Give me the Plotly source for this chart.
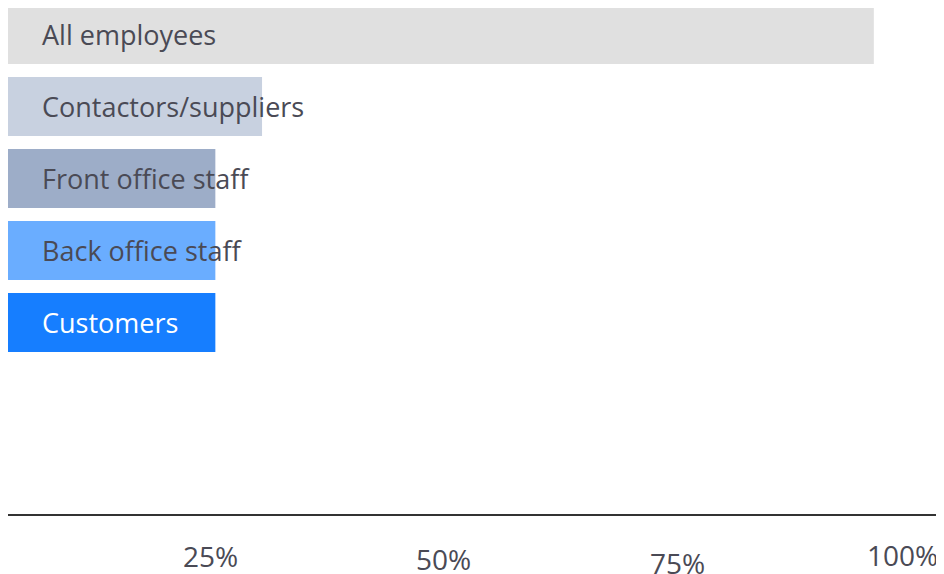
import plotly.graph_objects as go

categories = ["All employees", "Contactors/suppliers", "Front office staff",
              "Back office staff", "Customers"]
values = [0.927, 0.272, 0.222, 0.222, 0.222]
bar_colors = ["#e0e0e0", "#c8d1e0", "#9dadc8", "#6aadff", "#167eff"]
label_colors = ["#4a4a55", "#4a4a55", "#4a4a55", "#4a4a55", "#ffffff"]
tick_vals = [0.25, 0.5, 0.75, 1.0]
tick_text = ["25%", "50%", "75%", "100%"]
tick_drop = [42, 45, 49, 41]  # the percent labels sit at slightly different depths

FONT = "Open Sans"
TEXT_GREY = "#4a4a55"

fig = go.Figure()
fig.add_trace(go.Bar(x=values,
                     y=categories,
                     orientation='h',
                     marker=dict(color=bar_colors, line=dict(width=0)),
                     hoverinfo='none'))

# category names sit inside the bars, starting near the left edge
for cat, col in zip(categories, label_colors):
    fig.add_annotation(x=0, y=cat, xref='x', yref='y',
                       text=cat, showarrow=False,
                       xanchor='left', xshift=32,
                       font=dict(family=FONT, size=27, color=col))

# percent labels end just left of their tick position
for val, txt, drop in zip(tick_vals, tick_text, tick_drop):
    fig.add_annotation(x=val, y=0, xref='x', yref='paper',
                       text=txt, showarrow=False,
                       xanchor='right', yanchor='middle',
                       xshift=-2, yshift=-drop,
                       font=dict(family=FONT, size=28, color=TEXT_GREY))

# the page body adds an 8px margin, so the figure is sized to the remaining window
fig.update_layout(width=936, height=566,
                  showlegend=False,
                  bargap=0.18,
                  margin=dict(l=0, r=2, t=0, b=60, autoexpand=False),
                  paper_bgcolor='white',
                  plot_bgcolor='white',
                  xaxis=dict(range=[0, 1], showgrid=False, zeroline=False,
                             showline=True, linecolor='#333333', linewidth=2,
                             showticklabels=False, ticks='', automargin=False),
                  yaxis=dict(range=[6.66, -0.368], showgrid=False, zeroline=False,
                             showticklabels=False, type='category',
                             automargin=False))

fig.write_html("out.html")
